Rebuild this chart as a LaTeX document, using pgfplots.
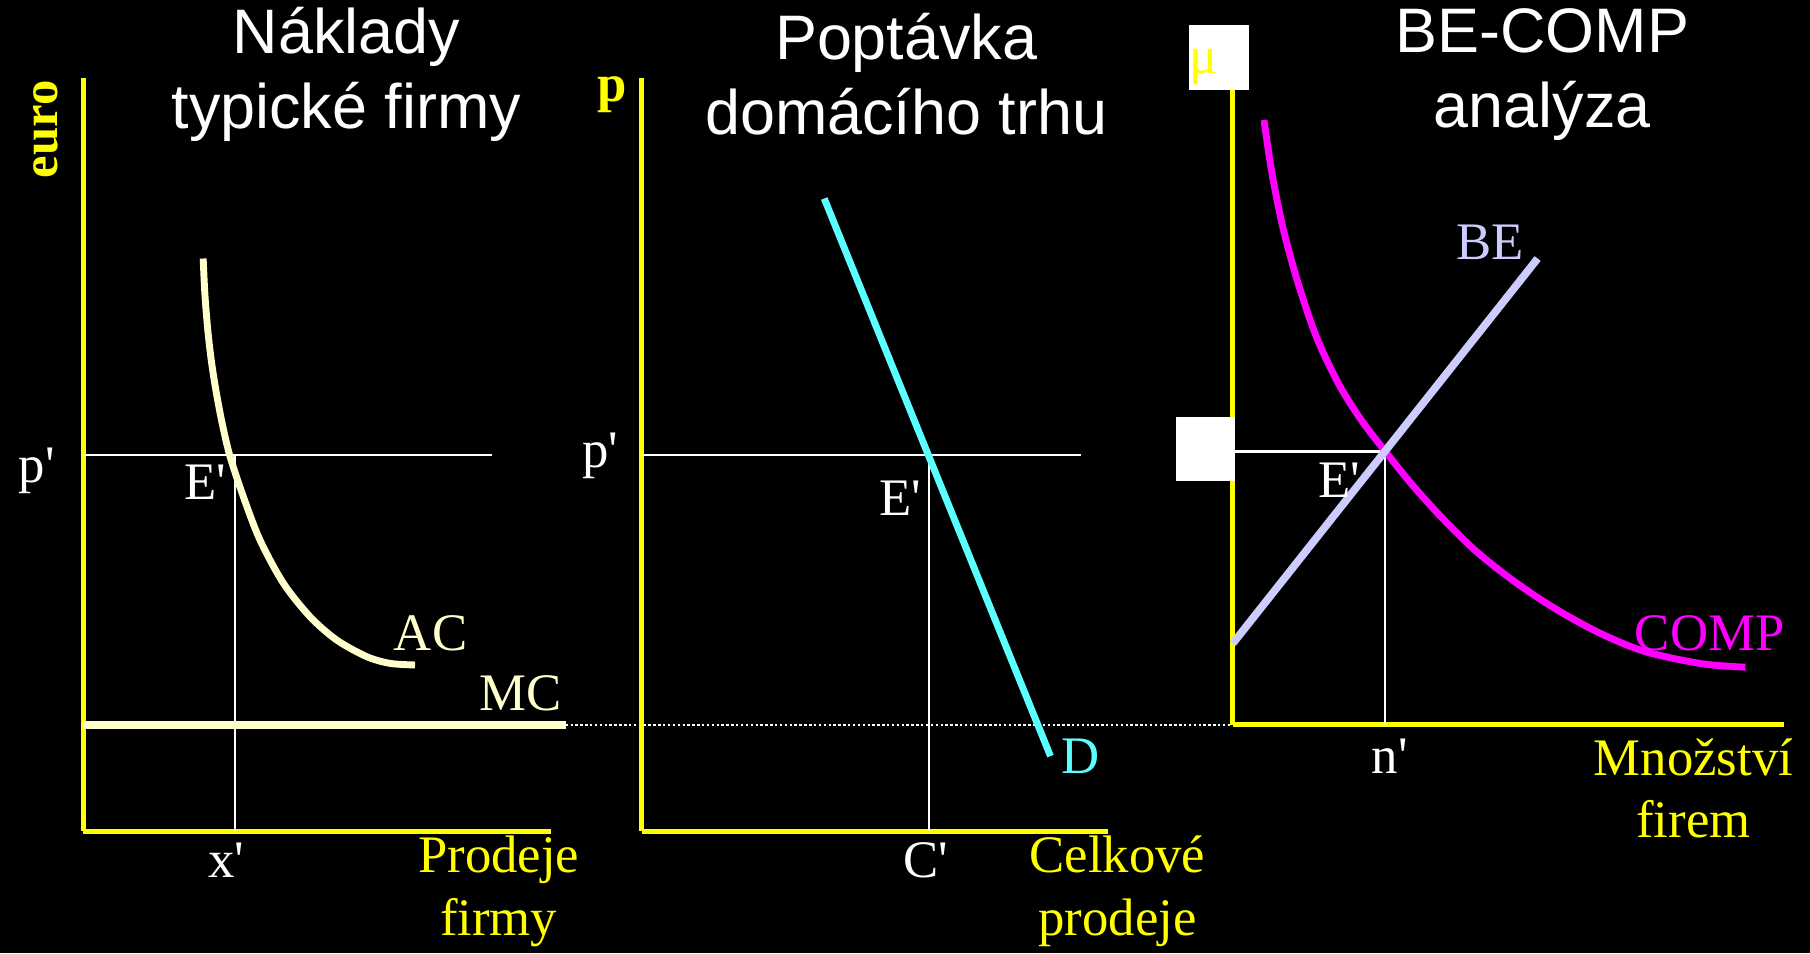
\documentclass[border=0pt]{standalone}
\usepackage{fontspec}
\setmainfont{Liberation Serif}
\newfontfamily\titlefont{Liberation Sans}
\usepackage{pgfplots}
\pgfplotsset{compat=1.18}

\definecolor{axisyellow}{HTML}{FFFF00}
\definecolor{cream}{HTML}{FFFFCC}
\definecolor{dcyan}{HTML}{5CFFFF}
\definecolor{lavender}{HTML}{CCCCFF}
\definecolor{compmag}{HTML}{FF00FF}
\newcommand\pr{\textquotesingle}

\pgfplotsset{
  panel/.style={
    x=0.1cm, y=0.1cm, xmin=0, ymin=0,
    axis lines=left,
    axis line style={-, draw=axisyellow, line width=1.2pt},
    ticks=none, clip=false, anchor=south west,
  },
}
\tikzset{
  lbl/.style={font=\fontsize{13}{15.5}\selectfont, text=white, align=center},
  ttl/.style={font=\titlefont\fontsize{15.5}{18.5}\selectfont, text=white, align=center},
  thinline/.style={white, line width=0.6pt},
}

\begin{document}
\begin{tikzpicture}
\useasboundingbox (0,0) rectangle (15.68cm,8.26cm);
\fill[black] (0,0) rectangle (15.68cm,8.26cm);

% naklady typicke firmy
\begin{axis}[panel, at={(0.72cm,1.06cm)}, xmax=40.5, ymax=65.2]
\addplot[thinline] coordinates {(0,32.6) (35.4,32.6)};
\addplot[thinline] coordinates {(13.15,0) (13.15,32.6)};
\addplot[cream, line width=1.7pt, smooth] coordinates {
(10.4,49.6)(10.55,46.5)(10.8,43.4)(11.1,40.8)(11.5,38.2)(12.05,35.3)(12.73,32.44)
(13.88,28.97)(15.32,25.22)(17.35,21.47)(19.66,18.57)(21.97,16.55)(24.57,15.11)
(26.59,14.53)(28.75,14.39)};
\addplot[cream, line width=2pt] coordinates {(0,9.2) (41.8,9.2)};
\addplot[white, line width=0.6pt, dash pattern=on 0.6pt off 0.6pt] coordinates {(41.8,9.2) (99.6,9.2)};
\node[ttl] at (22.8,65.55) {Náklady\\typické firmy};
\node[rotate=90, text=axisyellow, font=\bfseries\fontsize{12.5}{15}\selectfont] at (-3.2,60.8) {euro};
\node[lbl] at (-4,31.2) {p\pr};
\node[lbl] at (10.6,30.2) {E\pr};
\node[lbl, text=cream] at (30.1,17.1) {AC};
\node[lbl, text=cream] at (37.9,11.9) {MC};
\node[lbl] at (12.4,-2.5) {x\pr};
\node[lbl, text=axisyellow] at (36,-5.2) {Prodeje\\firmy};
\end{axis}

% poptavka domaciho trhu
\begin{axis}[panel, at={(5.56cm,1.06cm)}, xmax=40.4, ymax=65.2]
\addplot[thinline] coordinates {(0,32.6) (38,32.6)};
\addplot[thinline] coordinates {(24.9,0) (24.9,32.6)};
\addplot[dcyan, line width=1.7pt] coordinates {(15.8,54.8) (35.4,6.5)};
\node[ttl] at (22.9,65.55) {Poptávka\\domácího trhu};
\node[text=axisyellow, font=\bfseries\fontsize{13}{15}\selectfont] at (-2.6,63.8) {p};
\node[lbl] at (-3.6,32.5) {p\pr};
\node[lbl] at (22.4,28.8) {E\pr};
\node[lbl] at (24.6,-2.5) {C\pr};
\node[lbl, text=dcyan] at (38,6.5) {D};
\node[lbl, text=axisyellow] at (41.2,-5.2) {Celkové\\prodeje};
\end{axis}

% BE-COMP analyza
\begin{axis}[panel, at={(10.68cm,1.98cm)}, xmax=47.7, ymax=55]
\addplot[fill=white, draw=none] coordinates {(-3.8,55)(1.4,55)(1.4,60.6)(-3.8,60.6)} --cycle;
\addplot[fill=white, draw=none] coordinates {(-4.9,21.1)(0.2,21.1)(0.2,26.7)(-4.9,26.7)} --cycle;
\addplot[thinline] coordinates {(0.2,23.7) (13.2,23.7)};
\addplot[thinline] coordinates {(13.2,0) (13.2,23.7)};
\addplot[compmag, line width=1.7pt, smooth] coordinates {
(2.7,52.4)(3.35,48.0)(4.33,43.1)(5.64,38.3)(7.28,33.5)(9.24,29.4)(11.2,26.3)
(13.2,23.7)(15.45,20.9)(18.06,18.0)(21.01,15.1)(24.28,12.5)(27.87,10.1)
(31.79,7.95)(35.72,6.35)(40.62,5.3)(44.4,5.0)};
\addplot[lavender, line width=1.9pt] coordinates {(0,7.06) (26.4,40.4)};
\node[ttl] at (26.8,56.35) {BE-COMP\\analýza};
\node[lbl, text=axisyellow] at (-2.5,57) {μ};
\node[lbl, text=lavender] at (22.3,41.8) {BE};
\node[lbl] at (9.2,21.2) {E\pr};
\node[lbl, text=compmag] at (41.3,7.9) {COMP};
\node[lbl] at (13.6,-2.7) {n\pr};
\node[lbl, text=axisyellow] at (39.9,-5.5) {Množství\\firem};
\end{axis}
\end{tikzpicture}
\end{document}
